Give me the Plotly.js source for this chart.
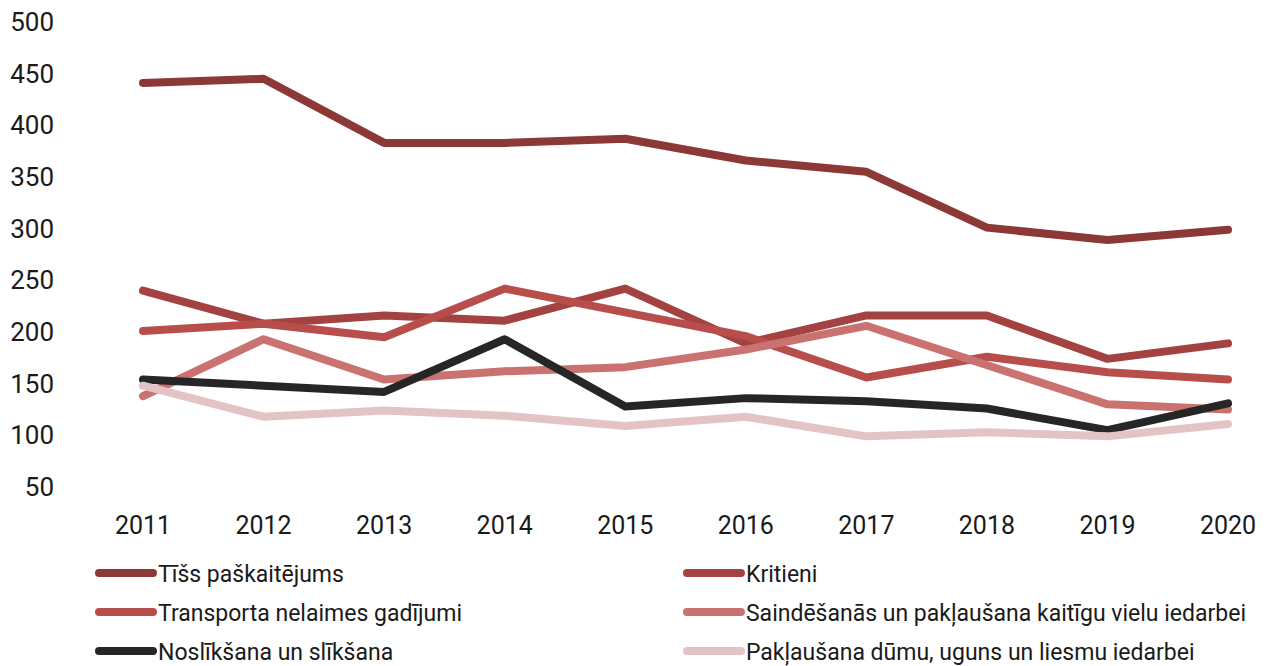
<!DOCTYPE html>
<html><head><meta charset="utf-8">
<script src="https://cdn.plot.ly/plotly-3.0.1.min.js"></script>
<style>html,body{margin:0;padding:0;background:#fff}#c{width:1269px;height:666px}</style>
</head><body><div id="c"></div>
<script>
const years = [2011, 2012, 2013, 2014, 2015, 2016, 2017, 2018, 2019, 2020];
const tiss = [441, 445, 383, 383, 387, 366, 355, 301, 289, 299];
const kritieni = [240, 208, 216, 211, 242, 189, 216, 216, 174, 189];
const transports = [201, 208, 195, 242, 219, 196, 156, 176, 161, 154];
const saindesanas = [138, 193, 154, 162, 166, 183, 206, 168, 130, 125];
const nosliksana = [154, 148, 142, 193, 128, 136, 133, 126, 105, 131];
const dumi = [148, 118, 124, 119, 109, 118, 99, 103, 99, 111];
const names = ["Tīšs paškaitējums", "Kritieni", "Transporta nelaimes gadījumi",
  "Saindēšanās un pakļaušana kaitīgu vielu iedarbei", "Noslīkšana un slīkšana",
  "Pakļaušana dūmu, uguns un liesmu iedarbei"];
const series = [tiss, kritieni, transports, saindesanas, nosliksana, dumi];
const colors = ["#8C3837", "#A34240", "#B84E4B", "#C97270", "#262626", "#E3C3C4"];
const legendIds = ["legend", "legend2", "legend3", "legend4", "legend5", "legend6"];

const traces = series.map((s, i) => ({
  x: years, y: s, name: names[i], type: "scatter", mode: "lines",
  line: {color: colors[i], width: 8}, legend: legendIds[i]
}));

const colX = [0.0286, 0.5231];
const rowY = [-0.185, -0.269, -0.3527];
const layout = {
  width: 1269, height: 666,
  margin: {l: 60, r: 20, t: 22, b: 179, autoexpand: false},
  paper_bgcolor: "#fff", plot_bgcolor: "#fff",
  font: {family: "Roboto, sans-serif", color: "#1a1a1a"},
  xaxis: {range: [2010.3115, 2020.174], tickvals: years, ticktext: years.map(String),
    showgrid: false, zeroline: false, showline: false, ticks: "",
    tickfont: {size: 25}, ticklabelstandoff: 21},
  yaxis: {range: [50, 500], tickvals: [50,100,150,200,250,300,350,400,450,500],
    showgrid: false, zeroline: false, showline: false, ticks: "",
    tickfont: {size: 26}, ticklabelstandoff: 5},
  showlegend: true
};
legendIds.forEach((id, i) => {
  layout[id] = {orientation: "h", x: colX[i % 2], xanchor: "left",
    y: rowY[Math.floor(i / 2)], yanchor: "middle",
    font: {size: 23}, itemwidth: 54, bgcolor: "rgba(0,0,0,0)"};
});
Plotly.newPlot("c", traces, layout, {displayModeBar: false, staticPlot: true}).then(() => {
  document.querySelectorAll("#c path.js-line").forEach(p => {
    p.style.strokeLinecap = "round"; p.style.strokeLinejoin = "round";
  });
});
</script></body></html>
